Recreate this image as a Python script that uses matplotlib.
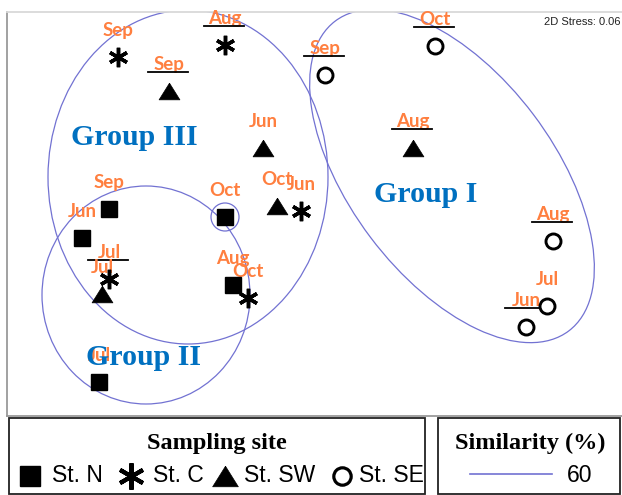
import matplotlib
matplotlib.use("Agg")
import matplotlib.pyplot as plt
from matplotlib.patches import Ellipse, Rectangle

# NMDS ordination, coordinates (plot-space units)
months = ["Jun", "Jul", "Aug", "Sep", "Oct"]

n_x = [82, 99, 233, 109, 225]
n_y = [238, 382, 285, 209, 217]

c_x = [301, 109, 225, 118, 248]
c_y = [211, 279, 45, 57, 298]

sw_x = [263, 102, 413, 169, 277]
sw_y = [148, 294, 148, 91, 206]

se_x = [526, 547, 553, 325, 435]
se_y = [327, 306, 241, 75, 46]

site_names = ["St. N", "St. C", "St. SW", "St. SE"]

# labels drawn with an underline in the original
underlined = [("St. C", "Aug"), ("St. C", "Jul"), ("St. SW", "Sep"), ("St. SW", "Aug"),
              ("St. SE", "Sep"), ("St. SE", "Oct"), ("St. SE", "Aug"), ("St. SE", "Jun")]

# 60 % similarity contours: centre x, centre y, width, height, angle
group_names = ["Group I", "Group II", "Group III"]
group_label_x = [426, 143, 134]
group_label_y = [202, 365, 145]
contours = [
    (452, 176, 388, 204, 53),
    (146, 295, 208, 218, 0),
    (188, 177, 280, 334, 0),
    (225, 217, 28, 28, 0),
]

ORANGE = "#FF7F3F"
BLUE = "#0070C0"
CONTOUR = "#7272D2"
TRI = [(0, 0.8), (-1, -0.8), (1, -0.8), (0, 0.8)]

styles = {
    "St. N": dict(marker="s", ms=11, mfc="black", mec="black", mew=1),
    "St. C": dict(marker=(6, 2, 0), ms=14, mfc="black", mec="black", mew=2.5),
    "St. SW": dict(marker=TRI, ms=15, mfc="black", mec="black", mew=0.5),
    "St. SE": dict(marker="o", ms=10.8, mfc="white", mec="black", mew=2.1),
}
legend_styles = {
    "St. N": dict(marker="s", ms=14, mfc="black", mec="black", mew=1),
    "St. C": dict(marker=(6, 2, 0), ms=19, mfc="black", mec="black", mew=3),
    "St. SW": dict(marker=TRI, ms=18.5, mfc="black", mec="black", mew=0.5),
    "St. SE": dict(marker="o", ms=12.5, mfc="white", mec="black", mew=2.3),
}

W, H = 622, 495
fig = plt.figure(figsize=(W / 100, H / 100), dpi=100)

left, top, right, bottom = 7, 12, 622, 416
ax = fig.add_axes([left / W, 1 - bottom / H, (right - left) / W, (bottom - top) / H])
ax.set_xlim(left, right)
ax.set_ylim(bottom, top)
ax.set_xticks([])
ax.set_yticks([])
ax.spines["right"].set_visible(False)
ax.spines["top"].set_color("#d9d9d9")
ax.spines["left"].set_color("#9a9a9a")
ax.spines["bottom"].set_color("#9a9a9a")
for s in ["top", "left", "bottom"]:
    ax.spines[s].set_linewidth(1.3)

for cx, cy, w, h, ang in contours:
    ax.add_patch(Ellipse((cx, cy), w, h, angle=ang, fill=False,
                         ec=CONTOUR, lw=0.9, zorder=2))

series = {
    "St. N": (n_x, n_y),
    "St. C": (c_x, c_y),
    "St. SW": (sw_x, sw_y),
    "St. SE": (se_x, se_y),
}
for site in site_names:
    xs, ys = series[site]
    ax.plot(xs, ys, ls="none", zorder=4, **styles[site])
    for m, x, y in zip(months, xs, ys):
        ax.text(x, y - 21, m, ha="center", va="baseline", color=ORANGE,
                fontsize=13.5, fontweight="bold", family="Lato", zorder=3)
        if (site, m) in underlined:
            ax.plot([x - 21, x + 19], [y - 19, y - 19], color="black", lw=1.3, zorder=3)

for name, gx, gy in zip(group_names, group_label_x, group_label_y):
    ax.text(gx, gy, name, ha="center", va="baseline", color=BLUE, fontsize=21.5,
            fontweight="bold", family="Liberation Serif", zorder=5)

ax.text(620, 22, "2D Stress: 0.06", ha="right", va="center", fontsize=8,
        family="Liberation Sans", color="#222222")

# legend panels below the ordination
lg = fig.add_axes([0, 0, 1, 1])
lg.set_xlim(0, W)
lg.set_ylim(H, 0)
lg.axis("off")

lg.add_patch(Rectangle((9, 418), 416, 76, fill=False, ec="#222222", lw=1.3))
lg.add_patch(Rectangle((438, 418), 182, 76, fill=False, ec="#222222", lw=1.3))

lg.text(217, 443, "Sampling site", ha="center", va="center", fontsize=17.5,
        fontweight="bold", family="Liberation Serif")
lg.text(530, 443, "Similarity (%)", ha="center", va="center", fontsize=17.5,
        fontweight="bold", family="Liberation Serif")

marker_pos = [30, 131, 225, 342]
text_pos = [52, 153, 244, 359]
for site, mx, tx in zip(site_names, marker_pos, text_pos):
    lg.plot([mx], [476], ls="none", **legend_styles[site])
    lg.text(tx, 476, site, ha="left", va="center", fontsize=16.5, family="Liberation Sans")

lg.plot([470, 552], [474, 474], color=CONTOUR, lw=1.2)
lg.text(580, 475, "60", ha="center", va="center", fontsize=16.5, family="Liberation Sans")

fig.savefig("out.png", dpi=100)
